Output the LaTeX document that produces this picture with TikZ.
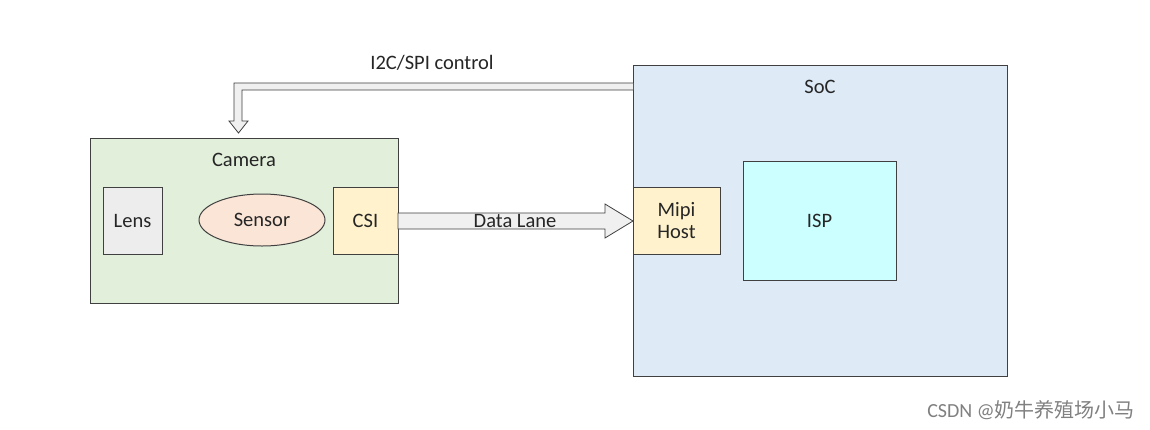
\documentclass[tikz,border=0pt]{standalone}
\usepackage{fontspec}
\setmainfont{Carlito}
\newfontfamily\cjk{Noto Sans CJK SC}
\definecolor{camg}{HTML}{E2EFDA}
\definecolor{socb}{HTML}{DEEBF7}
\definecolor{lensg}{HTML}{EDEDED}
\definecolor{senso}{HTML}{FBE5D6}
\definecolor{csiy}{HTML}{FFF2CC}
\definecolor{ispc}{HTML}{CCFFFF}
\definecolor{edge}{HTML}{404040}
\begin{document}
\begin{tikzpicture}[x=1pt,y=-1pt,
  box/.style={draw=edge,line width=1pt},
  lbl/.style={font=\fontsize{20.5}{22}\selectfont,text=black!85,inner sep=0pt},
  arr/.style={draw=edge,fill=gray!12,line width=0.8pt,line join=miter}]
\useasboundingbox (0,0) rectangle (1150,429);
\fill[white] (0,0) rectangle (1150,429);
% camera
\draw[box,fill=camg] (90,138) rectangle (398,303);
\node[lbl] (camlbl) at (244,160) {Camera};
\draw[box,fill=lensg] (103,187) rectangle (162,254);
\node[lbl] (lens) at (132.5,220.5) {Lens};
\draw[box,fill=senso] (262,220) ellipse [x radius=63,y radius=26];
\node[lbl] (sensor) at (262,220) {Sensor};
\draw[box,fill=csiy] (333,187) rectangle (398,254);
\node[lbl] (csi) at (365.5,220.5) {CSI};
% soc
\draw[box,fill=socb] (633,65) rectangle (1007,376);
\node[lbl] (soclbl) at (820,87) {SoC};
\draw[box,fill=csiy] (633,187) rectangle (720,254);
\node[lbl,align=center] (mipi) at (676.5,220.5) {Mipi\\[0pt]Host};
\draw[box,fill=ispc] (743,161) rectangle (896,280);
\node[lbl] (isp) at (819.5,220.5) {ISP};
% data lane arrow
\draw[arr] (398,213) -- (605,213) -- (605,204) -- (633,221) -- (605,238) -- (605,229) -- (398,229) -- cycle;
\node[lbl] (dl) at (515,221) {Data Lane};
% I2C arrow
\draw[arr] (633,83) -- (234,83) -- (234,121) -- (229,121) -- (238.5,133) -- (248,121) -- (242,121) -- (242,90) -- (633,90);
\node[lbl] (i2c) at (432,63) {I2C/SPI control};
% watermark
\node[font=\fontsize{20}{22}\selectfont,text=gray,inner sep=0pt] (wm) at (1031,410) {CSDN @{\cjk 奶牛养殖场小马}};
\end{tikzpicture}
\end{document}
